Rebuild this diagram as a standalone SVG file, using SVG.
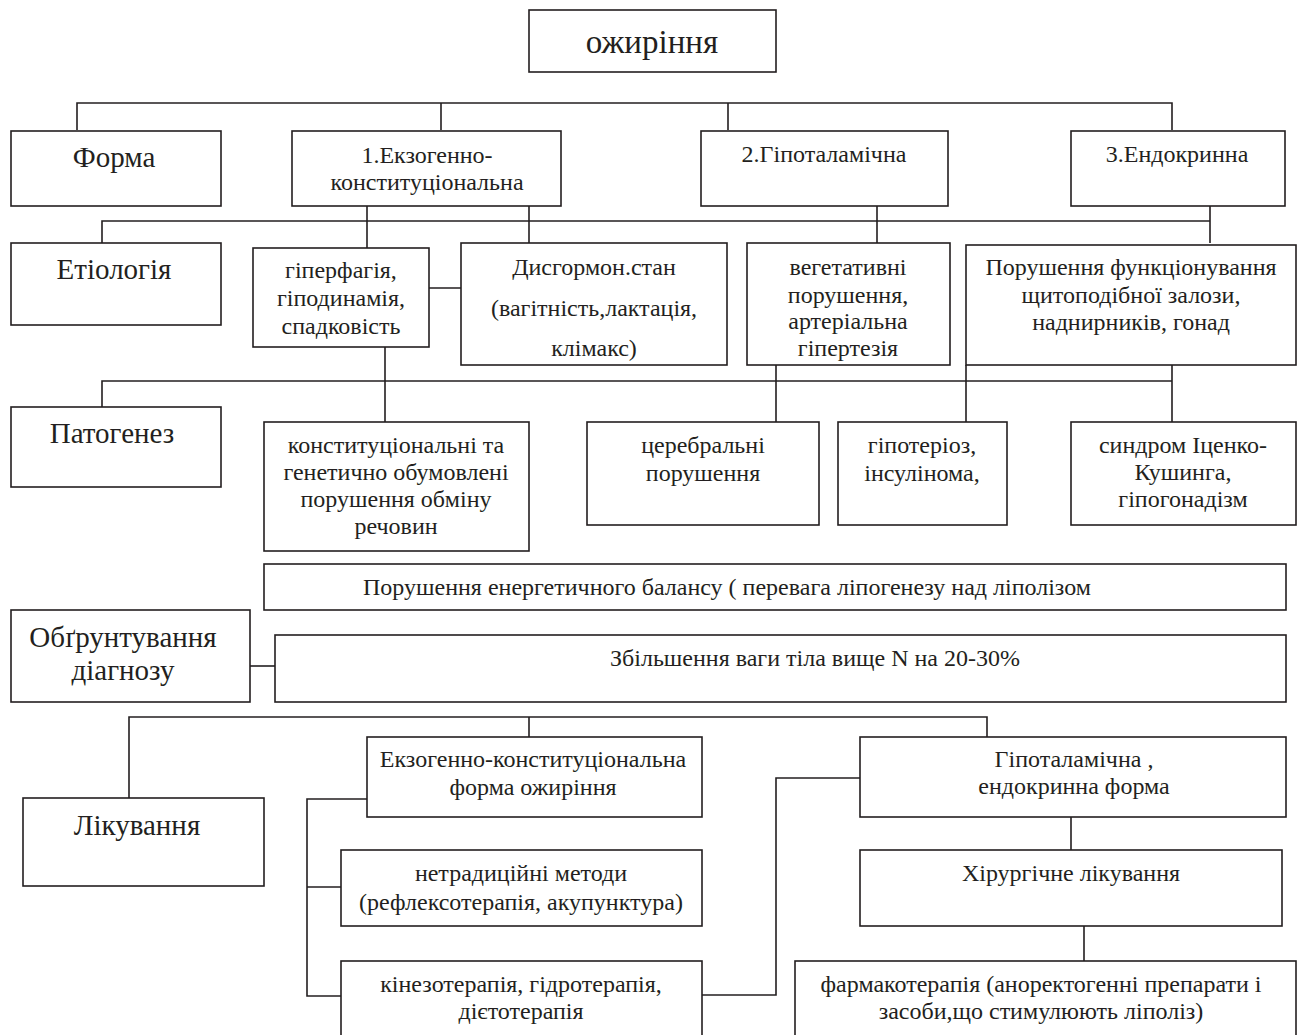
<svg xmlns="http://www.w3.org/2000/svg" width="1301" height="1035" viewBox="0 0 1301 1035">
<style>
rect{fill:#fff;stroke:#231f20;stroke-width:1.6}
rect.bg{stroke:none}
.c path{fill:none;stroke:#231f20;stroke-width:1.6}
text{font-family:"Liberation Serif","Times New Roman",serif;fill:#231f20;text-anchor:middle;font-size:24px}
.b{font-size:29px}
.t{font-size:33px}
</style>
<rect class="bg" width="1301" height="1035"/>
<g class="c" id="connectors">
<path d="M77,130V103H1172V130M441,103V130M728,103V130"/>
<path d="M102,243V221H1210M367,206V248M529,206V243M877,206V243M1210,206V243M429,288H461"/>
<path d="M385,347V422M102,407V381H1172M776,365V422M966,365V422M1172,365V422"/>
<path d="M250,666H275"/>
<path d="M129,798V717H987V737M529,717V737"/>
<path d="M367,799H307V996H341M307,887H341"/>
<path d="M702,995H776V778H860"/>
<path d="M1071,817V850M1084,926V961"/>
</g>
<g id="n-root"><rect x="529" y="10" width="247" height="62"/><text class="t" x="652" y="53">ожиріння</text></g>
<g id="n-forma"><rect x="11" y="131" width="210" height="75"/><text class="b" x="114" y="167">Форма</text></g>
<g id="n-f1"><rect x="292" y="131" width="269" height="75"/><text x="427" y="163">1.Екзогенно-</text><text x="427" y="190">конституціональна</text></g>
<g id="n-f2"><rect x="701" y="131" width="247" height="75"/><text x="824" y="162">2.Гіпоталамічна</text></g>
<g id="n-f3"><rect x="1071" y="131" width="214" height="75"/><text x="1177" y="162">3.Ендокринна</text></g>
<g id="n-etio"><rect x="11" y="243" width="210" height="82"/><text class="b" x="114" y="279">Етіологія</text></g>
<g id="n-e1"><rect x="253" y="248" width="176" height="99"/><text x="341" y="278">гіперфагія,</text><text x="341" y="306">гіподинамія,</text><text x="341" y="334">спадковість</text></g>
<g id="n-e2"><rect x="461" y="243" width="266" height="122"/><text x="594" y="275">Дисгормон.стан</text><text x="594" y="316">(вагітність,лактація,</text><text x="594" y="356">клімакс)</text></g>
<g id="n-e3"><rect x="747" y="243" width="203" height="122"/><text x="848" y="275">вегетативні</text><text x="848" y="303">порушення,</text><text x="848" y="329">артеріальна</text><text x="848" y="356">гіпертезія</text></g>
<g id="n-e4"><rect x="966" y="245" width="330" height="120"/><text x="1131" y="275">Порушення функціонування</text><text x="1131" y="303">щитоподібної залози,</text><text x="1131" y="330">наднирників, гонад</text></g>
<g id="n-pato"><rect x="11" y="407" width="210" height="80"/><text class="b" x="112" y="443">Патогенез</text></g>
<g id="n-p1"><rect x="264" y="422" width="265" height="129"/><text x="396" y="453">конституціональні та</text><text x="396" y="480">генетично обумовлені</text><text x="396" y="507">порушення обміну</text><text x="396" y="534">речовин</text></g>
<g id="n-p2"><rect x="587" y="422" width="232" height="103"/><text x="703" y="453">церебральні</text><text x="703" y="481">порушення</text></g>
<g id="n-p3"><rect x="838" y="422" width="169" height="103"/><text x="922" y="453">гіпотеріоз,</text><text x="922" y="481">інсулінома,</text></g>
<g id="n-p4"><rect x="1071" y="422" width="225" height="103"/><text x="1183" y="453">синдром Іценко-</text><text x="1183" y="480">Кушинга,</text><text x="1183" y="507">гіпогонадізм</text></g>
<g id="n-bal"><rect x="264" y="564" width="1022" height="46"/><text x="727" y="595">Порушення енергетичного балансу ( перевага ліпогенезу над ліполізом</text></g>
<g id="n-diag"><rect x="11" y="610" width="239" height="92"/><text class="b" x="123" y="647">Обґрунтування</text><text class="b" x="123" y="680">діагнозу</text></g>
<g id="n-weight"><rect x="275" y="635" width="1011" height="67"/><text x="815" y="666">Збільшення ваги тіла вище N на 20-30%</text></g>
<g id="n-lik"><rect x="23" y="798" width="241" height="88"/><text class="b" x="137" y="835">Лікування</text></g>
<g id="n-l1"><rect x="367" y="737" width="335" height="80"/><text x="533" y="767">Екзогенно-конституціональна</text><text x="533" y="795">форма ожиріння</text></g>
<g id="n-l2"><rect x="341" y="850" width="361" height="76"/><text x="521" y="881">нетрадиційні методи</text><text x="521" y="910">(рефлексотерапія, акупунктура)</text></g>
<g id="n-l3"><rect x="341" y="961" width="361" height="80"/><text x="521" y="992">кінезотерапія, гідротерапія,</text><text x="521" y="1019">дієтотерапія</text></g>
<g id="n-r1"><rect x="860" y="737" width="426" height="80"/><text x="1074" y="767">Гіпоталамічна ,</text><text x="1074" y="794">ендокринна форма</text></g>
<g id="n-r2"><rect x="860" y="850" width="422" height="76"/><text x="1071" y="881">Хірургічне лікування</text></g>
<g id="n-r3"><rect x="795" y="961" width="501" height="80"/><text x="1041" y="992">фармакотерапія (аноректогенні препарати і</text><text x="1041" y="1019">засоби,що стимулюють ліполіз)</text></g>
</svg>
